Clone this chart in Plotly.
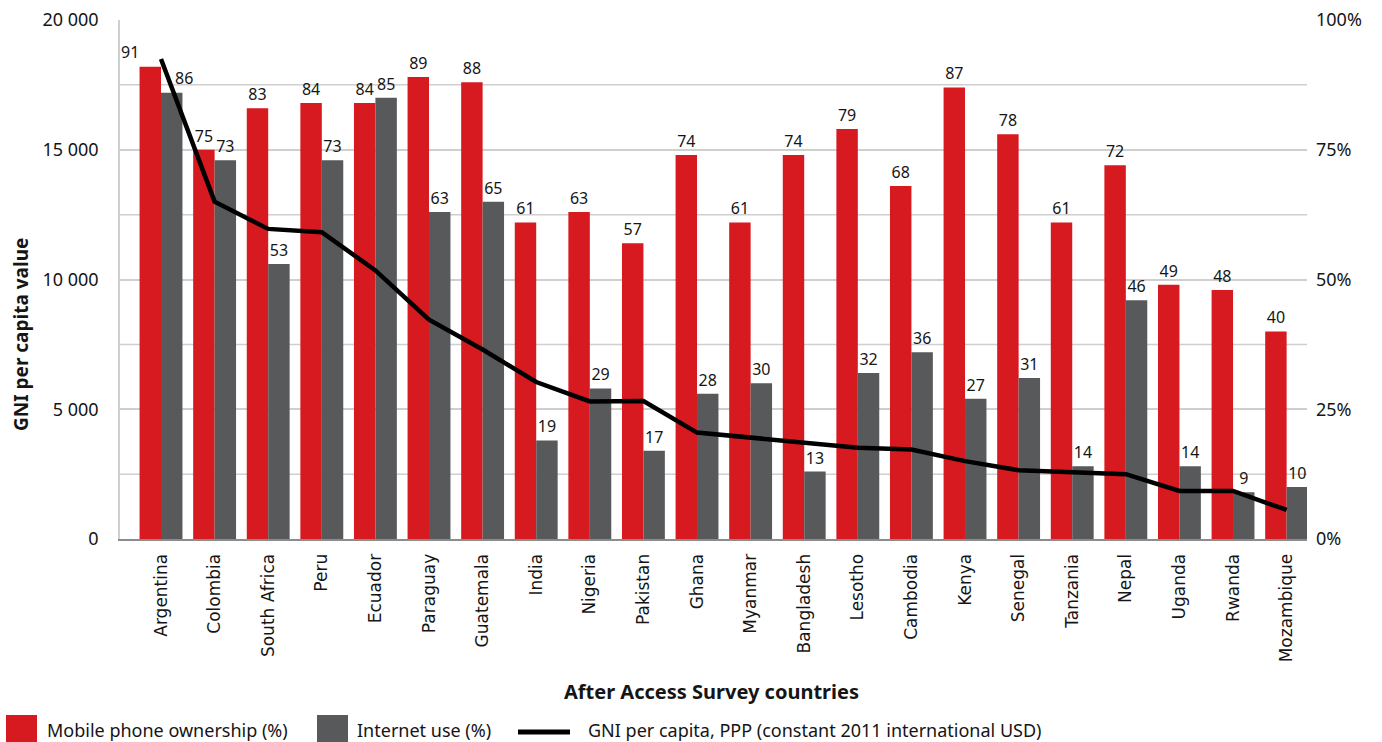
import plotly.graph_objects as go

countries = ["Argentina", "Colombia", "South Africa", "Peru", "Ecuador", "Paraguay",
             "Guatemala", "India", "Nigeria", "Pakistan", "Ghana", "Myanmar",
             "Bangladesh", "Lesotho", "Cambodia", "Kenya", "Senegal", "Tanzania",
             "Nepal", "Uganda", "Rwanda", "Mozambique"]
mobile_pct = [91, 75, 83, 84, 84, 89, 88, 61, 63, 57, 74, 61, 74, 79, 68, 87, 78, 61, 72, 49, 48, 40]
internet_pct = [86, 73, 53, 73, 85, 63, 65, 19, 29, 17, 28, 30, 13, 32, 36, 27, 31, 14, 46, 14, 9, 10]
gni_ppp = [18500, 13000, 11950, 11820, 10350, 8450, 7300, 6050, 5300, 5320, 4100, 3900,
           3700, 3520, 3450, 3000, 2650, 2570, 2500, 1850, 1850, 1120]

gni_ticks = [0, 2500, 5000, 7500, 10000, 12500, 15000, 17500, 20000]
gni_ticktext = ["0", "", "5 000", "", "10 000", "", "15 000", "", "20 000"]
pct_ticks = [0, 25, 50, 75, 100]
pct_ticktext = ["0%", "25%", "50%", "75%", "100%"]

RED = "#d71920"
GREY = "#58595b"
FONT = "Noto Sans"
INK = "#151515"

x = list(range(len(countries)))

# the first group's labels are nudged sideways clear of the GNI line,
# so they are placed as annotations instead of bar text
mobile_text = [""] + [str(v) for v in mobile_pct[1:]]
internet_text = [""] + [str(v) for v in internet_pct[1:]]

fig = go.Figure()
fig.add_trace(go.Bar(
    x=x, y=mobile_pct, name="Mobile phone ownership (%)", yaxis="y",
    marker=dict(color=RED, line=dict(width=0)),
    text=mobile_text, textposition="outside", constraintext="none",
    textfont=dict(family=FONT, size=16, color=INK), cliponaxis=False,
))
fig.add_trace(go.Bar(
    x=x, y=internet_pct, name="Internet use (%)", yaxis="y",
    marker=dict(color=GREY, line=dict(width=0)),
    text=internet_text, textposition="outside", constraintext="none",
    textfont=dict(family=FONT, size=16, color=INK), cliponaxis=False,
))
fig.add_trace(go.Scatter(
    x=x, y=gni_ppp, name="GNI per capita, PPP (constant 2011 international USD)",
    yaxis="y2", mode="lines", line=dict(color="black", width=4.5),
))


def px_x(p):
    return (p - 120) / 1187


def px_y(p):
    return (539 - p) / 519


# legend drawn by hand along the bottom edge
shapes = [
    dict(type="rect", xref="paper", yref="paper", x0=px_x(6), x1=px_x(37),
         y0=px_y(745), y1=px_y(715), fillcolor=RED, line=dict(width=0)),
    dict(type="rect", xref="paper", yref="paper", x0=px_x(317), x1=px_x(348),
         y0=px_y(745), y1=px_y(715), fillcolor=GREY, line=dict(width=0)),
    dict(type="line", xref="paper", yref="paper", x0=px_x(518), x1=px_x(570),
         y0=px_y(732), y1=px_y(732), line=dict(color="black", width=5)),
]
for g in [12.5, 37.5, 62.5, 87.5]:
    shapes.append(dict(type="line", xref="paper", yref="y", x0=0, x1=1, y0=g, y1=g,
                       line=dict(color="#cfcfcf", width=1.5), layer="below"))

annotations = [
    dict(text=str(mobile_pct[0]), x=x[0] - 0.2, y=mobile_pct[0], xref="x", yref="y",
         xshift=-20, yshift=2, yanchor="bottom", showarrow=False,
         font=dict(family=FONT, size=16, color=INK)),
    dict(text=str(internet_pct[0]), x=x[0] + 0.2, y=internet_pct[0], xref="x", yref="y",
         xshift=12, yshift=2, yanchor="bottom", showarrow=False,
         font=dict(family=FONT, size=16, color=INK)),
]

legend_items = [("Mobile phone ownership (%)", 45), ("Internet use (%)", 355),
                ("GNI per capita, PPP (constant 2011 international USD)", 586)]
for label, p in legend_items:
    annotations.append(dict(
        text=label, xref="paper", yref="paper", x=px_x(p), y=px_y(730),
        xanchor="left", yanchor="middle", showarrow=False,
        font=dict(family=FONT, size=18, color=INK),
    ))
annotations.append(dict(
    text="<b>GNI per capita value</b>", xref="paper", yref="paper",
    x=px_x(21), y=px_y(335), textangle=-90,
    xanchor="center", yanchor="middle", showarrow=False,
    font=dict(family=FONT, size=19, color=INK),
))
annotations.append(dict(
    text="<b>After Access Survey countries</b>", xref="paper", yref="paper",
    x=px_x(711), y=px_y(691),
    xanchor="center", yanchor="middle", showarrow=False,
    font=dict(family=FONT, size=20, color=INK),
))

fig.update_layout(
    width=1382, height=742,
    margin=dict(l=120, r=75, t=20, b=203, autoexpand=False),
    paper_bgcolor="white", plot_bgcolor="white",
    barmode="group", bargap=0.2, bargroupgap=0,
    showlegend=False,
    font=dict(family=FONT, size=17, color=INK),
    shapes=shapes, annotations=annotations,
    xaxis=dict(
        range=[-0.765, 21.38], tickvals=x, ticktext=countries, tickangle=-90,
        tickfont=dict(family="DejaVu Sans", size=17, color=INK),
        showgrid=False, zeroline=False, showline=True, linecolor="#8c8c8c", linewidth=2,
        ticks="", ticklabelstandoff=6, automargin=False,
    ),
    yaxis=dict(
        range=[0, 100], side="right", tickvals=pct_ticks, ticktext=pct_ticktext,
        showgrid=True, gridcolor="#cfcfcf", gridwidth=1.5,
        zeroline=False, showline=False, ticks="", automargin=False,
        tickfont=dict(family=FONT, size=18, color=INK), ticklabelstandoff=8,
    ),
    yaxis2=dict(
        range=[0, 20000], side="left", overlaying="y", tickvals=gni_ticks, ticktext=gni_ticktext,
        showgrid=False, zeroline=False, showline=True, linecolor="#cfcfcf", linewidth=1.5,
        ticks="", tickfont=dict(family=FONT, size=18, color=INK), ticklabelstandoff=16,
        automargin=False,
    ),
)

fig.write_html("out.html")
